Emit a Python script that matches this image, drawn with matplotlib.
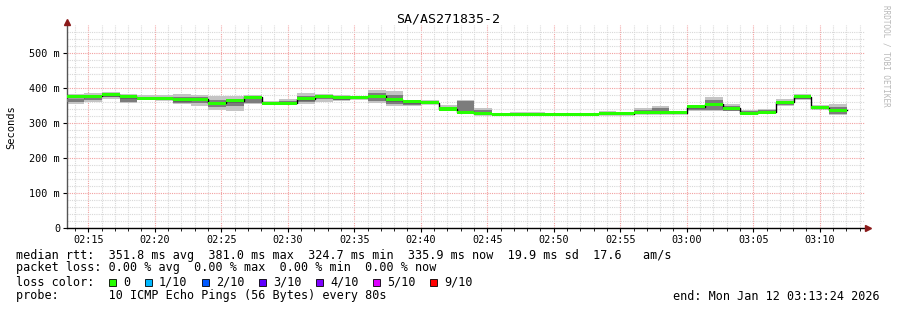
import numpy as np
import matplotlib.pyplot as plt
from matplotlib.patches import Rectangle

MONO = 'DejaVu Sans Mono'

# 80 s steps, times in minutes after 02:00
step_start = 13 + 22 / 60
step_len = 80 / 60
view_start = 13 + 24 / 60
view_end = 73 + 24 / 60

# median rtt per step (ms)
median = [375, 376, 381, 375, 371, 370, 367, 368, 356, 364, 374, 356, 356, 370, 376,
          372, 374, 376, 366, 361, 358, 340, 331, 327, 325, 325, 325, 325, 325, 324.7,
          327, 327, 330, 330, 330, 347, 353, 342, 328, 331, 359, 375, 344, 336]
# outer smoke (min / max ping)
smoke_hi = [383, 385, 389, 383, 380, 380, 382, 381, 378, 376, 381, 363, 369, 385, 384,
            380, 378, 394, 391, 366, 366, 352, 366, 342, 328, 331, 332, 330, 327, 330,
            334, 329, 342, 349, 333, 348, 375, 354, 337, 340, 370, 383, 352, 353]
smoke_lo = [353, 361, 369, 358, 366, 366, 354, 350, 337, 335, 354, 351, 351, 354, 361,
            364, 366, 358, 349, 349, 354, 333, 328, 325, 323, 323, 323, 322, 322, 322,
            325, 325, 328, 328, 327, 334, 334, 333, 324, 328, 349, 366, 340, 323]
# inner (darker) smoke
core_hi = [370, 378, 384, 372, 375, 374, 374, 374, 366, 368, 376, 360, 362, 378, 380,
           376, 376, 386, 380, 364, 362, 346, 362, 336, 327, 328, 330, 328, 326, 326,
           331, 328, 337, 342, 331, 346, 366, 348, 333, 336, 364, 380, 348, 346]
core_lo = [360, 366, 374, 360, 367, 367, 358, 356, 345, 350, 358, 353, 353, 359, 368,
           367, 369, 364, 354, 352, 355, 336, 332, 326, 324, 324, 324, 323, 323, 323,
           326, 326, 329, 329, 328, 338, 337, 334, 325, 329, 352, 369, 341, 325]

tick_pos = list(range(15, 75, 5))
tick_lab = ['02:15', '02:20', '02:25', '02:30', '02:35', '02:40', '02:45',
            '02:50', '02:55', '03:00', '03:05', '03:10']
y_pos = [0, 100, 200, 300, 400, 500]
y_lab = ['0', '100 m', '200 m', '300 m', '400 m', '500 m']

loss_labels = ['0', '1/10', '2/10', '3/10', '4/10', '5/10', '9/10']
loss_colors = ['#26ff00', '#00b8ff', '#0059ff', '#5e00ff', '#7e00ff', '#dd00ff', '#ff0000']

fig = plt.figure(figsize=(8.97, 3.10), dpi=100)
W, H = 897, 310
ax = fig.add_axes([67 / W, 1 - 228 / H, (865 - 67) / W, (228 - 25) / H])

n = len(median)
edges = step_start + np.arange(n + 1) * step_len


def ext(v):
    v = np.asarray(v, dtype=float)
    return np.append(v, v[-1])


ax.fill_between(edges, ext(smoke_lo), ext(smoke_hi), step='post', color='#c4c4c4', lw=0, zorder=2)
ax.fill_between(edges, ext(core_lo), ext(core_hi), step='post', color='#7c7c7c', lw=0, zorder=3)
ax.step(edges, ext(median), where='post', color='black', lw=1, zorder=4)
med = ext(median)
ax.fill_between(edges, med - 4.5, med + 4.5, step='post', color=loss_colors[0], lw=0, zorder=5)

ax.set_xlim(view_start, view_end)
ax.set_ylim(0, 580)
ax.set_xticks(tick_pos)
ax.set_xticklabels(tick_lab)
ax.set_xticks(np.arange(14, 74, 1), minor=True)
ax.set_yticks(y_pos)
ax.set_yticklabels(y_lab)
ax.set_yticks(np.arange(0, 580, 20), minor=True)

ax.grid(which='minor', color='#d8d8d8', linestyle=(0, (1, 1)), lw=0.8)
ax.grid(which='major', color='#f2a0a0', linestyle=(0, (1, 1)), lw=0.8)
ax.set_axisbelow(True)

for s in ['top', 'right']:
    ax.spines[s].set_visible(False)
ax.spines['left'].set_color('#555555')
ax.spines['bottom'].set_color('black')
ax.spines['left'].set_linewidth(1)
ax.spines['bottom'].set_linewidth(1)

ax.tick_params(axis='both', which='major', labelsize=7.3, length=3, width=0.8, pad=2)
ax.tick_params(axis='x', which='minor', length=2, width=0.6)
ax.tick_params(axis='y', which='minor', length=0)
for lab in ax.get_xticklabels() + ax.get_yticklabels():
    lab.set_fontfamily(MONO)

# axis arrows
ax.plot([view_start], [588], marker='^', color='#8b1a1a', ms=4, clip_on=False, zorder=6)
ax.plot([view_end + 0.25], [0], marker='>', color='#8b1a1a', ms=4, clip_on=False, zorder=6)

fig.text(448 / W, 1 - 19 / H, 'SA/AS271835-2', family=MONO, fontsize=9.5,
         ha='center', va='center')
fig.text(11 / W, 1 - 127 / H, 'Seconds', family=MONO, fontsize=7.5,
         rotation=90, ha='center', va='center')
fig.text(886 / W, 1 - 5 / H, 'RRDTOOL / TOBI OETIKER', family=MONO, fontsize=5.5,
         rotation=270, ha='center', va='top', color='#b8b8b8')

fs = 8.5
cw = 7.14
x0 = 16
fig.text(x0 / W, 1 - 255 / H,
         'median rtt:  351.8 ms avg  381.0 ms max  324.7 ms min  335.9 ms now  19.9 ms sd  17.6   am/s',
         family=MONO, fontsize=fs, va='center')
fig.text(x0 / W, 1 - 268 / H,
         'packet loss: 0.00 % avg  0.00 % max  0.00 % min  0.00 % now',
         family=MONO, fontsize=fs, va='center')
fig.text(x0 / W, 1 - 282 / H, 'loss color:', family=MONO, fontsize=fs, va='center')
fig.text(x0 / W, 1 - 296 / H,
         'probe:       10 ICMP Echo Pings (56 Bytes) every 80s',
         family=MONO, fontsize=fs, va='center')
fig.text(880 / W, 1 - 296 / H, 'end: Mon Jan 12 03:13:24 2026',
         family=MONO, fontsize=fs, va='center', ha='right')

col = 13
for lab, c in zip(loss_labels, loss_colors):
    bx = x0 + col * cw
    fig.patches.append(Rectangle((bx / W, 1 - 286 / H), 7 / W, 7 / H, transform=fig.transFigure,
                                 facecolor=c, edgecolor='black', lw=0.6))
    fig.text((bx + 2 * cw) / W, 1 - 282 / H, lab, family=MONO, fontsize=fs, va='center')
    col += 2 + len(lab) + 2

fig.savefig('out.png', dpi=100)
